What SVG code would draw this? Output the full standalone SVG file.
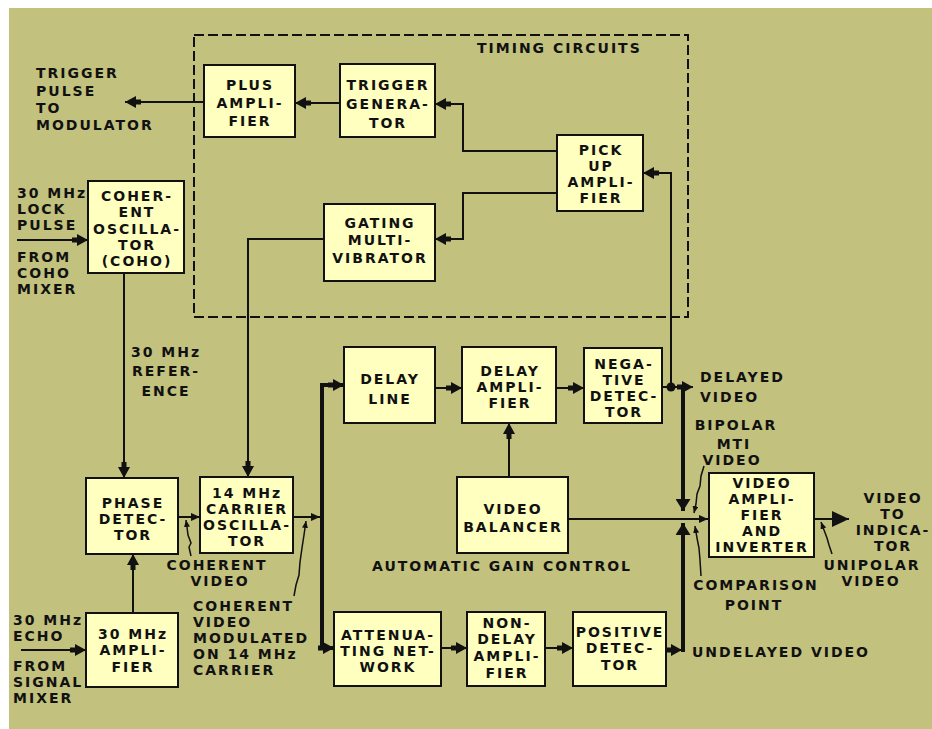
<svg xmlns="http://www.w3.org/2000/svg" width="932" height="729" viewBox="0 0 932 729">
<style>
.bg{fill:#C2C17E}
.box{fill:#FFFFC0;stroke:#111;stroke-width:2}
.t{font-family:"DejaVu Sans",sans-serif;font-weight:bold;font-size:14px;letter-spacing:2px;fill:#111}
.c{text-anchor:middle}
.ln{fill:none;stroke:#111;stroke-width:2}
.tk{stroke-width:4}
.ld{fill:none;stroke:#111;stroke-width:1.5}
.dash{fill:none;stroke:#111;stroke-width:2;stroke-dasharray:10 4}
</style>
<defs>
<marker id="ah" viewBox="0 0 16 12" refX="16" refY="6" markerWidth="16" markerHeight="12" markerUnits="userSpaceOnUse" orient="auto"><path d="M0,3.5 H5 V0 L16,6 L5,12 V8.5 H0 z" fill="#111"/></marker>
<marker id="sm" viewBox="0 0 9 8" refX="9" refY="4" markerWidth="9" markerHeight="8" markerUnits="userSpaceOnUse" orient="auto"><path d="M0,0 L9,4 L0,8 z" fill="#111"/></marker>
<marker id="tri" viewBox="0 0 12 15" refX="12" refY="7.5" markerWidth="12" markerHeight="15" markerUnits="userSpaceOnUse" orient="auto"><path d="M0,0 L12,7.5 L0,15 z" fill="#111"/></marker>
<marker id="big" viewBox="0 0 17 16" refX="17" refY="8" markerWidth="17" markerHeight="16" markerUnits="userSpaceOnUse" orient="auto"><path d="M0,0 L17,8 L0,16 z" fill="#111"/></marker>
<marker id="ld" viewBox="0 0 7 6" refX="7" refY="3" markerWidth="7" markerHeight="6" markerUnits="userSpaceOnUse" orient="auto"><path d="M0,0 L7,3 L0,6 z" fill="#111"/></marker>
</defs>
<rect x="0" y="0" width="932" height="729" fill="#fff"/>
<rect class="bg" x="9" y="8" width="923" height="721"/>

<g id="timing-circuits">
<rect class="dash" x="194" y="35" width="494" height="282"/>
<text class="t" x="477" y="53">TIMING CIRCUITS</text>
</g>

<g id="connectors">
<path class="ln" d="M340,103 H295" marker-end="url(#ah)"/>
<path class="ln" d="M204,102 H125" marker-end="url(#ah)"/>
<path class="ln" d="M557,151 H463 V104 H435" marker-end="url(#ah)"/>
<path class="ln" d="M557,193 H463 V239 H435" marker-end="url(#ah)"/>
<path class="ln" d="M324,239 H248 V477" marker-end="url(#ah)"/>
<path class="ln" d="M17,240 H88" marker-end="url(#ah)"/>
<path class="ln" d="M124,273 V478" marker-end="url(#ah)"/>
<path class="ln" d="M133,613 V554" marker-end="url(#ah)"/>
<path class="ln" d="M21,650 H86" marker-end="url(#ah)"/>
<path class="ln" d="M178,517 H200" marker-end="url(#sm)"/>
<path class="ln" d="M293,517 H320" marker-end="url(#sm)"/>
<path class="ln tk" d="M322,648 V385 H344" marker-end="url(#ah)"/>
<path class="ln tk" d="M322,640 V648 H334" marker-end="url(#ah)"/>
<path class="ln" d="M435,388 H462" marker-end="url(#ah)"/>
<path class="ln" d="M556,388 H584" marker-end="url(#ah)"/>
<path class="ln" d="M662,387 H693" marker-end="url(#ah)"/>
<circle cx="671" cy="387" r="4.5" fill="#111"/>
<path class="ln" d="M671,387 V173 H643" marker-end="url(#ah)"/>
<path class="ln tk" d="M683,385 V511" marker-end="url(#tri)"/>
<path class="ln" d="M441,648 H467" marker-end="url(#ah)"/>
<path class="ln" d="M545,648 H573" marker-end="url(#ah)"/>
<path class="ln" d="M666,650 H682" marker-end="url(#ah)"/>
<path class="ln tk" d="M683,652 V523" marker-end="url(#tri)"/>
<path class="ln" d="M509,477 V423" marker-end="url(#ah)"/>
<path class="ln" d="M568,519 H708" marker-end="url(#sm)"/>
<path class="ln" d="M814,519 H849" marker-end="url(#big)"/>
<path class="ld" d="M191,556 L189,547 L191,543 L188,535 L187,527 L186,520" marker-end="url(#ld)"/>
<path class="ld" d="M294,596 L296,585 L299,575 L300,562 L302,548 L304,535 L306,521" marker-end="url(#ld)"/>
<path class="ld" d="M704,466 L701,476 L700,486 L697,494 L696,504 L694,513" marker-end="url(#ld)"/>
<path class="ld" d="M701,576 L700,560 L699,548 L697,538 L695,526" marker-end="url(#ld)"/>
<path class="ld" d="M832,554 L829,545 L827,538 L824,530 L821,522" marker-end="url(#ld)"/>
</g>

<g id="plus-amplifier"><rect class="box" x="204" y="65" width="91" height="72"/>
<text class="t c" x="250" y="90">PLUS</text><text class="t c" x="250" y="108">AMPLI-</text><text class="t c" x="250" y="126">FIER</text></g>

<g id="trigger-generator"><rect class="box" x="340" y="64" width="95" height="73"/>
<text class="t c" x="388" y="90">TRIGGER</text><text class="t c" x="388" y="109">GENERA-</text><text class="t c" x="388" y="128">TOR</text></g>

<g id="pick-up-amplifier"><rect class="box" x="557" y="135" width="86" height="76"/>
<text class="t c" x="601" y="155">PICK</text><text class="t c" x="601" y="171">UP</text><text class="t c" x="601" y="187">AMPLI-</text><text class="t c" x="601" y="203">FIER</text></g>

<g id="gating-multivibrator"><rect class="box" x="324" y="204" width="111" height="77"/>
<text class="t c" x="380" y="228">GATING</text><text class="t c" x="380" y="245">MULTI-</text><text class="t c" x="380" y="263">VIBRATOR</text></g>

<g id="coho"><rect class="box" x="88" y="181" width="96" height="92"/>
<text class="t c" x="137" y="201">COHER-</text><text class="t c" x="137" y="217">ENT</text><text class="t c" x="137" y="234">OSCILLA-</text><text class="t c" x="137" y="250">TOR</text><text class="t c" x="137" y="266">(COHO)</text></g>

<g id="phase-detector"><rect class="box" x="86" y="478" width="92" height="76"/>
<text class="t c" x="133" y="508">PHASE</text><text class="t c" x="133" y="524">DETEC-</text><text class="t c" x="133" y="540">TOR</text></g>

<g id="carrier-oscillator"><rect class="box" x="200" y="477" width="93" height="76"/>
<text class="t c" x="247" y="498">14 MHz</text><text class="t c" x="247" y="514">CARRIER</text><text class="t c" x="247" y="530">OSCILLA-</text><text class="t c" x="247" y="546">TOR</text></g>

<g id="amplifier-30mhz"><rect class="box" x="86" y="613" width="92" height="74"/>
<text class="t c" x="133" y="639">30 MHz</text><text class="t c" x="133" y="655">AMPLI-</text><text class="t c" x="133" y="672">FIER</text></g>

<g id="delay-line"><rect class="box" x="344" y="347" width="91" height="76"/>
<text class="t c" x="390" y="384">DELAY</text><text class="t c" x="390" y="404">LINE</text></g>

<g id="delay-amplifier"><rect class="box" x="462" y="347" width="94" height="76"/>
<text class="t c" x="510" y="376">DELAY</text><text class="t c" x="510" y="392">AMPLI-</text><text class="t c" x="510" y="408">FIER</text></g>

<g id="negative-detector"><rect class="box" x="584" y="348" width="78" height="75"/>
<text class="t c" x="624" y="369">NEGA-</text><text class="t c" x="624" y="385">TIVE</text><text class="t c" x="624" y="401">DETEC-</text><text class="t c" x="624" y="417">TOR</text></g>

<g id="video-balancer"><rect class="box" x="457" y="477" width="111" height="76"/>
<text class="t c" x="513" y="514">VIDEO</text><text class="t c" x="513" y="532">BALANCER</text></g>

<g id="video-amplifier"><rect class="box" x="709" y="473" width="105" height="84"/>
<text class="t c" x="762" y="488">VIDEO</text><text class="t c" x="762" y="504">AMPLI-</text><text class="t c" x="762" y="520">FIER</text><text class="t c" x="762" y="536">AND</text><text class="t c" x="762" y="552">INVERTER</text></g>

<g id="attenuating-network"><rect class="box" x="334" y="612" width="107" height="74"/>
<text class="t c" x="388" y="640">ATTENUA-</text><text class="t c" x="388" y="656">TING NET-</text><text class="t c" x="388" y="672">WORK</text></g>

<g id="non-delay-amplifier"><rect class="box" x="467" y="612" width="78" height="74"/>
<text class="t c" x="507" y="628">NON-</text><text class="t c" x="507" y="644">DELAY</text><text class="t c" x="507" y="661">AMPLI-</text><text class="t c" x="507" y="678">FIER</text></g>

<g id="positive-detector"><rect class="box" x="573" y="612" width="93" height="74"/>
<text class="t c" x="620" y="637">POSITIVE</text><text class="t c" x="620" y="653">DETEC-</text><text class="t c" x="620" y="670">TOR</text></g>

<g id="labels">
<text class="t" x="36" y="78">TRIGGER</text><text class="t" x="36" y="96">PULSE</text><text class="t" x="36" y="113">TO</text><text class="t" x="36" y="130">MODULATOR</text>
<text class="t" x="17" y="198">30 MHz</text><text class="t" x="17" y="214">LOCK</text><text class="t" x="17" y="230">PULSE</text>
<text class="t" x="17" y="262">FROM</text><text class="t" x="17" y="278">COHO</text><text class="t" x="17" y="294">MIXER</text>
<text class="t c" x="166" y="357">30 MHz</text><text class="t c" x="166" y="376">REFER-</text><text class="t c" x="166" y="396">ENCE</text>
<text class="t" x="13" y="625">30 MHz</text><text class="t" x="13" y="641">ECHO</text>
<text class="t" x="13" y="671">FROM</text><text class="t" x="13" y="687">SIGNAL</text><text class="t" x="13" y="703">MIXER</text>
<text class="t c" x="217" y="570">COHERENT</text><text class="t c" x="220" y="586">VIDEO</text>
<text class="t" x="193" y="611">COHERENT</text><text class="t" x="193" y="627">VIDEO</text><text class="t" x="193" y="643">MODULATED</text><text class="t" x="193" y="659">ON 14 MHz</text><text class="t" x="193" y="675">CARRIER</text>
<text class="t" x="372" y="571">AUTOMATIC GAIN CONTROL</text>
<text class="t" x="700" y="382">DELAYED</text><text class="t" x="700" y="402">VIDEO</text>
<text class="t c" x="736" y="430">BIPOLAR</text><text class="t c" x="734" y="449">MTI</text><text class="t c" x="732" y="465">VIDEO</text>
<text class="t c" x="893" y="503">VIDEO</text><text class="t c" x="893" y="519">TO</text><text class="t c" x="893" y="535">INDICA-</text><text class="t c" x="893" y="551">TOR</text>
<text class="t c" x="872" y="570">UNIPOLAR</text><text class="t c" x="871" y="586">VIDEO</text>
<text class="t c" x="756" y="590">COMPARISON</text><text class="t c" x="754" y="610">POINT</text>
<text class="t" x="692" y="657">UNDELAYED VIDEO</text>
</g>
</svg>
